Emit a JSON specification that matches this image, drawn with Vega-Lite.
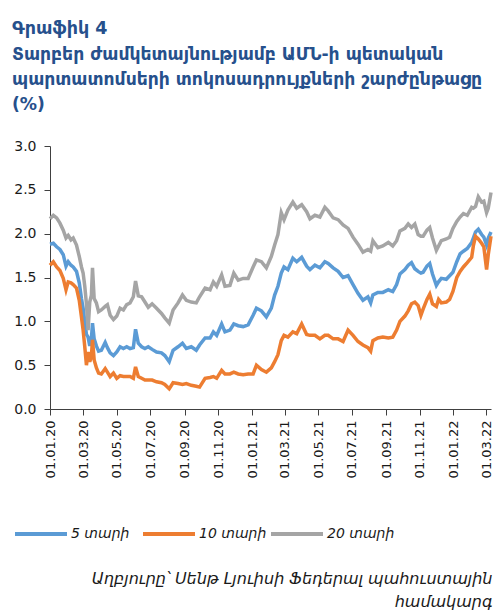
{
  "$schema": "https://vega.github.io/schema/vega-lite/v6.json",
  "width": 441,
  "height": 263,
  "autosize": {"type": "none"},
  "padding": {"left": 50, "top": 146, "right": 5, "bottom": 204},
  "background": "white",
  "config": {"view": {"stroke": null}, "font": "DejaVu Sans"},
  "title": {
    "text": "Գրաֆիկ 4",
    "subtitle": ["Տարբեր ժամկետայնությամբ ԱՄՆ-ի պետական", "պարտատոմսերի տոկոսադրույքների շարժընթացը", "(%)"],
    "anchor": "start",
    "frame": "group",
    "dx": -38,
    "offset": 26,
    "font": "DejaVu Sans",
    "fontSize": 17.5,
    "fontWeight": "bold",
    "color": "#26508C",
    "subtitleFont": "DejaVu Sans",
    "subtitleFontSize": 17.2,
    "subtitleFontWeight": "bold",
    "subtitleColor": "#26508C",
    "subtitleLineHeight": 25,
    "subtitlePadding": 8
  },
  "data": {"values": [
    {"d":"2020-01-01","y20":2.17,"y5":1.88,"y10":1.64},
    {"d":"2020-01-07","y20":2.21,"y5":1.89,"y10":1.68},
    {"d":"2020-01-13","y20":2.18,"y5":1.85,"y10":1.62},
    {"d":"2020-01-19","y20":2.12,"y5":1.82,"y10":1.58},
    {"d":"2020-01-25","y20":2.04,"y5":1.76,"y10":1.49},
    {"d":"2020-01-30","y20":1.95,"y5":1.63,"y10":1.36},
    {"d":"2020-02-03","y20":1.98,"y5":1.68,"y10":1.45},
    {"d":"2020-02-08","y20":1.93,"y5":1.64,"y10":1.44},
    {"d":"2020-02-12","y20":1.95,"y5":1.62,"y10":1.42},
    {"d":"2020-02-18","y20":1.87,"y5":1.57,"y10":1.38},
    {"d":"2020-02-23","y20":1.74,"y5":1.44,"y10":1.24},
    {"d":"2020-02-27","y20":1.62,"y5":1.26,"y10":1.05},
    {"d":"2020-03-01","y20":1.55,"y5":1.15,"y10":0.90},
    {"d":"2020-03-04","y20":1.40,"y5":1.00,"y10":0.71},
    {"d":"2020-03-07","y20":1.20,"y5":0.85,"y10":0.50},
    {"d":"2020-03-10","y20":0.90,"y5":0.82,"y10":0.65},
    {"d":"2020-03-13","y20":1.22,"y5":0.72,"y10":0.54},
    {"d":"2020-03-16","y20":1.30,"y5":0.80,"y10":0.60},
    {"d":"2020-03-18","y20":1.61,"y5":0.98,"y10":0.79},
    {"d":"2020-03-21","y20":1.26,"y5":0.80,"y10":0.56},
    {"d":"2020-03-25","y20":1.21,"y5":0.72,"y10":0.47},
    {"d":"2020-03-29","y20":1.11,"y5":0.66,"y10":0.41},
    {"d":"2020-04-03","y20":1.13,"y5":0.67,"y10":0.40},
    {"d":"2020-04-10","y20":1.17,"y5":0.76,"y10":0.46},
    {"d":"2020-04-14","y20":1.19,"y5":0.70,"y10":0.42},
    {"d":"2020-04-19","y20":1.07,"y5":0.64,"y10":0.37},
    {"d":"2020-04-25","y20":1.02,"y5":0.61,"y10":0.41},
    {"d":"2020-05-01","y20":1.06,"y5":0.65,"y10":0.35},
    {"d":"2020-05-07","y20":1.15,"y5":0.71,"y10":0.38},
    {"d":"2020-05-13","y20":1.13,"y5":0.69,"y10":0.37},
    {"d":"2020-05-19","y20":1.19,"y5":0.71,"y10":0.37},
    {"d":"2020-05-25","y20":1.21,"y5":0.69,"y10":0.37},
    {"d":"2020-05-31","y20":1.28,"y5":0.70,"y10":0.35},
    {"d":"2020-06-04","y20":1.46,"y5":0.91,"y10":0.48},
    {"d":"2020-06-09","y20":1.29,"y5":0.75,"y10":0.37},
    {"d":"2020-06-15","y20":1.28,"y5":0.71,"y10":0.35},
    {"d":"2020-06-21","y20":1.22,"y5":0.69,"y10":0.33},
    {"d":"2020-06-27","y20":1.16,"y5":0.71,"y10":0.33},
    {"d":"2020-07-04","y20":1.20,"y5":0.68,"y10":0.33},
    {"d":"2020-07-12","y20":1.15,"y5":0.65,"y10":0.31},
    {"d":"2020-07-21","y20":1.09,"y5":0.64,"y10":0.30},
    {"d":"2020-07-27","y20":1.04,"y5":0.61,"y10":0.28},
    {"d":"2020-08-04","y20":0.98,"y5":0.54,"y10":0.23},
    {"d":"2020-08-11","y20":1.13,"y5":0.67,"y10":0.30},
    {"d":"2020-08-20","y20":1.21,"y5":0.71,"y10":0.29},
    {"d":"2020-08-28","y20":1.30,"y5":0.75,"y10":0.28},
    {"d":"2020-09-04","y20":1.24,"y5":0.69,"y10":0.29},
    {"d":"2020-09-13","y20":1.22,"y5":0.71,"y10":0.27},
    {"d":"2020-09-22","y20":1.21,"y5":0.67,"y10":0.26},
    {"d":"2020-09-28","y20":1.28,"y5":0.73,"y10":0.25},
    {"d":"2020-10-08","y20":1.38,"y5":0.81,"y10":0.35},
    {"d":"2020-10-17","y20":1.36,"y5":0.81,"y10":0.36},
    {"d":"2020-10-23","y20":1.45,"y5":0.88,"y10":0.37},
    {"d":"2020-10-29","y20":1.40,"y5":0.84,"y10":0.35},
    {"d":"2020-11-07","y20":1.53,"y5":0.97,"y10":0.44},
    {"d":"2020-11-13","y20":1.40,"y5":0.88,"y10":0.40},
    {"d":"2020-11-22","y20":1.41,"y5":0.90,"y10":0.40},
    {"d":"2020-11-29","y20":1.55,"y5":0.97,"y10":0.42},
    {"d":"2020-12-07","y20":1.47,"y5":0.95,"y10":0.40},
    {"d":"2020-12-16","y20":1.49,"y5":0.94,"y10":0.39},
    {"d":"2020-12-25","y20":1.49,"y5":0.96,"y10":0.40},
    {"d":"2021-01-03","y20":1.62,"y5":1.07,"y10":0.40},
    {"d":"2021-01-09","y20":1.70,"y5":1.15,"y10":0.50},
    {"d":"2021-01-18","y20":1.68,"y5":1.12,"y10":0.45},
    {"d":"2021-01-27","y20":1.61,"y5":1.05,"y10":0.42},
    {"d":"2021-02-05","y20":1.74,"y5":1.15,"y10":0.47},
    {"d":"2021-02-11","y20":1.87,"y5":1.30,"y10":0.54},
    {"d":"2021-02-17","y20":1.99,"y5":1.40,"y10":0.62},
    {"d":"2021-02-23","y20":2.24,"y5":1.55,"y10":0.78},
    {"d":"2021-02-28","y20":2.16,"y5":1.62,"y10":0.84},
    {"d":"2021-03-07","y20":2.27,"y5":1.59,"y10":0.82},
    {"d":"2021-03-16","y20":2.36,"y5":1.72,"y10":0.88},
    {"d":"2021-03-23","y20":2.29,"y5":1.68,"y10":0.86},
    {"d":"2021-04-01","y20":2.33,"y5":1.73,"y10":0.97},
    {"d":"2021-04-10","y20":2.25,"y5":1.63,"y10":0.85},
    {"d":"2021-04-16","y20":2.17,"y5":1.59,"y10":0.84},
    {"d":"2021-04-25","y20":2.21,"y5":1.64,"y10":0.84},
    {"d":"2021-05-04","y20":2.19,"y5":1.61,"y10":0.80},
    {"d":"2021-05-13","y20":2.30,"y5":1.68,"y10":0.84},
    {"d":"2021-05-19","y20":2.26,"y5":1.66,"y10":0.84},
    {"d":"2021-05-28","y20":2.18,"y5":1.61,"y10":0.80},
    {"d":"2021-06-06","y20":2.16,"y5":1.57,"y10":0.80},
    {"d":"2021-06-15","y20":2.10,"y5":1.50,"y10":0.77},
    {"d":"2021-06-24","y20":2.06,"y5":1.52,"y10":0.90},
    {"d":"2021-07-03","y20":1.96,"y5":1.42,"y10":0.84},
    {"d":"2021-07-12","y20":1.88,"y5":1.32,"y10":0.77},
    {"d":"2021-07-21","y20":1.79,"y5":1.24,"y10":0.73},
    {"d":"2021-07-30","y20":1.82,"y5":1.28,"y10":0.70},
    {"d":"2021-08-04","y20":1.80,"y5":1.21,"y10":0.66},
    {"d":"2021-08-08","y20":1.92,"y5":1.30,"y10":0.78},
    {"d":"2021-08-17","y20":1.84,"y5":1.33,"y10":0.81},
    {"d":"2021-08-26","y20":1.86,"y5":1.33,"y10":0.82},
    {"d":"2021-09-05","y20":1.90,"y5":1.36,"y10":0.81},
    {"d":"2021-09-13","y20":1.86,"y5":1.34,"y10":0.82},
    {"d":"2021-09-20","y20":1.92,"y5":1.42,"y10":0.90},
    {"d":"2021-09-26","y20":2.03,"y5":1.54,"y10":1.00},
    {"d":"2021-10-05","y20":2.06,"y5":1.59,"y10":1.06},
    {"d":"2021-10-11","y20":2.11,"y5":1.64,"y10":1.12},
    {"d":"2021-10-17","y20":2.07,"y5":1.67,"y10":1.20},
    {"d":"2021-10-23","y20":2.11,"y5":1.60,"y10":1.22},
    {"d":"2021-10-29","y20":1.99,"y5":1.57,"y10":1.18},
    {"d":"2021-11-03","y20":1.97,"y5":1.55,"y10":1.07},
    {"d":"2021-11-07","y20":1.97,"y5":1.56,"y10":1.14},
    {"d":"2021-11-14","y20":2.04,"y5":1.63,"y10":1.25},
    {"d":"2021-11-19","y20":2.07,"y5":1.66,"y10":1.31},
    {"d":"2021-11-24","y20":1.95,"y5":1.54,"y10":1.20},
    {"d":"2021-12-01","y20":1.81,"y5":1.41,"y10":1.17},
    {"d":"2021-12-05","y20":1.86,"y5":1.45,"y10":1.25},
    {"d":"2021-12-10","y20":1.92,"y5":1.49,"y10":1.21},
    {"d":"2021-12-19","y20":1.94,"y5":1.48,"y10":1.22},
    {"d":"2021-12-25","y20":1.96,"y5":1.52,"y10":1.25},
    {"d":"2021-12-31","y20":2.06,"y5":1.56,"y10":1.34},
    {"d":"2022-01-07","y20":2.14,"y5":1.68,"y10":1.50},
    {"d":"2022-01-13","y20":2.19,"y5":1.77,"y10":1.57},
    {"d":"2022-01-19","y20":2.23,"y5":1.80,"y10":1.62},
    {"d":"2022-01-26","y20":2.21,"y5":1.83,"y10":1.67},
    {"d":"2022-02-03","y20":2.30,"y5":1.90,"y10":1.73},
    {"d":"2022-02-06","y20":2.29,"y5":1.95,"y10":1.86},
    {"d":"2022-02-10","y20":2.31,"y5":2.02,"y10":1.97},
    {"d":"2022-02-15","y20":2.42,"y5":2.05,"y10":1.94},
    {"d":"2022-02-21","y20":2.36,"y5":1.99,"y10":1.89},
    {"d":"2022-02-25","y20":2.37,"y5":1.96,"y10":1.85},
    {"d":"2022-03-02","y20":2.24,"y5":1.87,"y10":1.59},
    {"d":"2022-03-05","y20":2.29,"y5":1.95,"y10":1.76},
    {"d":"2022-03-10","y20":2.47,"y5":2.02,"y10":1.97}
  ]},
  "transform": [{"fold": ["y5", "y10", "y20"], "as": ["series", "value"]}],
  "mark": {"type": "line", "strokeWidth": 3.5},
  "encoding": {
    "x": {
      "field": "d",
      "type": "temporal",
      "scale": {"type": "utc", "domain": [{"year": 2020, "month": 1, "date": 1, "utc": true}, {"year": 2022, "month": 3, "date": 10, "utc": true}]},
      "title": ["Աղբյուրը՝ Սենթ Լյուիսի Ֆեդերալ պահուստային", "համակարգ"],
      "axis": {
        "values": [
          {"year": 2020, "month": 1, "date": 1, "utc": true},
          {"year": 2020, "month": 3, "date": 1, "utc": true},
          {"year": 2020, "month": 5, "date": 1, "utc": true},
          {"year": 2020, "month": 7, "date": 1, "utc": true},
          {"year": 2020, "month": 9, "date": 1, "utc": true},
          {"year": 2020, "month": 11, "date": 1, "utc": true},
          {"year": 2021, "month": 1, "date": 1, "utc": true},
          {"year": 2021, "month": 3, "date": 1, "utc": true},
          {"year": 2021, "month": 5, "date": 1, "utc": true},
          {"year": 2021, "month": 7, "date": 1, "utc": true},
          {"year": 2021, "month": 9, "date": 1, "utc": true},
          {"year": 2021, "month": 11, "date": 1, "utc": true},
          {"year": 2022, "month": 1, "date": 1, "utc": true},
          {"year": 2022, "month": 3, "date": 1, "utc": true}
        ],
        "format": "%d.%m.%y",
        "labelAngle": -90,
        "labelFont": "DejaVu Sans",
        "labelFontSize": 13,
        "labelColor": "#1a1a1a",
        "labelPadding": 5,
        "labelFlush": false,
        "labelOverlap": false,
        "tickSize": 6,
        "tickColor": "#404040",
        "domainColor": "#404040",
        "grid": false,
        "titleX": 442,
        "titleY": 174,
        "titleAlign": "right",
        "titleAnchor": "end",
        "titleBaseline": "alphabetic",
        "titleFont": "DejaVu Sans",
        "titleFontStyle": "italic",
        "titleFontWeight": "normal",
        "titleFontSize": 16,
        "titleColor": "#1a1a1a",
        "titleLineHeight": 23
      }
    },
    "y": {
      "field": "value",
      "type": "quantitative",
      "scale": {"domain": [0, 3]},
      "title": null,
      "axis": {
        "values": [0, 0.5, 1, 1.5, 2, 2.5, 3],
        "format": ".1f",
        "labelFont": "DejaVu Sans",
        "labelFontSize": 14,
        "labelColor": "#1a1a1a",
        "labelPadding": 8,
        "tickSize": 6,
        "tickColor": "#404040",
        "domainColor": "#404040",
        "grid": false
      }
    },
    "color": {
      "field": "series",
      "type": "nominal",
      "scale": {"domain": ["y5", "y10", "y20"], "range": ["#5B9BD5", "#ED7D31", "#A5A5A5"]},
      "legend": {
        "orient": "none",
        "legendX": -37,
        "legendY": 360,
        "direction": "horizontal",
        "title": null,
        "symbolType": "stroke",
        "symbolSize": 2704,
        "symbolStrokeWidth": 4,
        "labelFont": "DejaVu Sans",
        "labelFontStyle": "italic",
        "labelFontSize": 14,
        "labelColor": "#1a1a1a",
        "labelOffset": 2,
        "gridAlign": "all",
        "columnPadding": -4,
        "labelExpr": "datum.label == 'y5' ? '5 տարի' : datum.label == 'y10' ? '10 տարի' : '20 տարի'"
      }
    }
  }
}
